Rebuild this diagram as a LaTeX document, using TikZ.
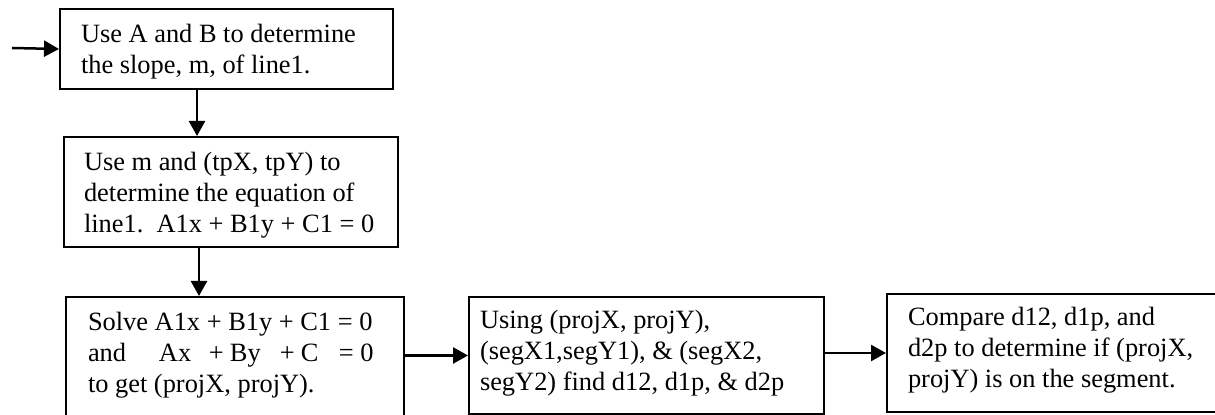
\documentclass[tikz,border=0pt]{standalone}
\usepackage{fontspec}
\setmainfont{Liberation Serif}
\usetikzlibrary{arrows.meta}
\frenchspacing
% #1 width, #2 height, #3 left pad, #4 first-baseline depth, #5 text
\newcommand\boxtxt[5]{\parbox[c][#2][t]{#1}{\fontsize{13.2pt}{15.5pt}\selectfont\parindent=0pt\leftskip=#3\relax\rightskip=0pt plus 1fil\relax\rule{0pt}{#4}#5}}
\newcommand\atpos[2]{\rlap{\hspace*{#1}#2}}
\begin{document}
\begin{tikzpicture}[x=1pt,y=1pt,
  box/.style={draw, line width=1pt, inner sep=0pt, anchor=north west},
  arr/.style={line width=1.25pt, -{Triangle[length=7.5pt,width=8pt]}}]
\useasboundingbox (0,0) rectangle (607.5,-207.5);
\clip (0,0) rectangle (607.5,-207.5);
\node[box] (b1) at (29.5,-4) {\boxtxt{166.5pt}{40pt}{10.5pt}{17pt}{Use A and B to determine\\the slope, m, of line1.}};
\node[box] (b2) at (31.5,-68) {\boxtxt{167pt}{55pt}{10pt}{17pt}{Use m and (tpX, tpY) to\\determine the equation of\\line1.\ \ A1x + B1y + C1 = 0}};
\node[box] (b3) at (32.5,-148) {\boxtxt{169pt}{66pt}{11pt}{17pt}{Solve A1x + B1y + C1 = 0\\\atpos{0pt}{and}\atpos{35.5pt}{Ax}\atpos{60.5pt}{+}\atpos{71pt}{By}\atpos{96pt}{+}\atpos{106.5pt}{C}\atpos{125.5pt}{= 0}\\to get (projX, projY).}};
\node[box] (b4) at (234,-148) {\boxtxt{177.5pt}{58.5pt}{5.5pt}{16pt}{Using (projX, projY),\\(segX1,segY1), \& (segX2,\\segY2) find d12, d1p, \& d2p}};
\node[box] (b5) at (443,-146.5) {\boxtxt{168pt}{59pt}{10.5pt}{16pt}{Compare d12, d1p, and\\d2p to determine if (projX,\\projY) is on the segment.}};
\coordinate (in) at (6,-24);
\coordinate (a1) at ([xshift=69pt]b1.south west);
\coordinate (a2) at ([xshift=68pt]b2.south west);
\draw[arr] (in) -- (b1.west);
\draw[arr] (a1) -- (a1 |- b2.north);
\draw[arr] (a2) -- (a2 |- b3.north);
\draw[arr] (b3.east |- b4.west) -- (b4.west);
\draw[arr] (b4.east |- b5.west) -- (b5.west);
\end{tikzpicture}
\end{document}
